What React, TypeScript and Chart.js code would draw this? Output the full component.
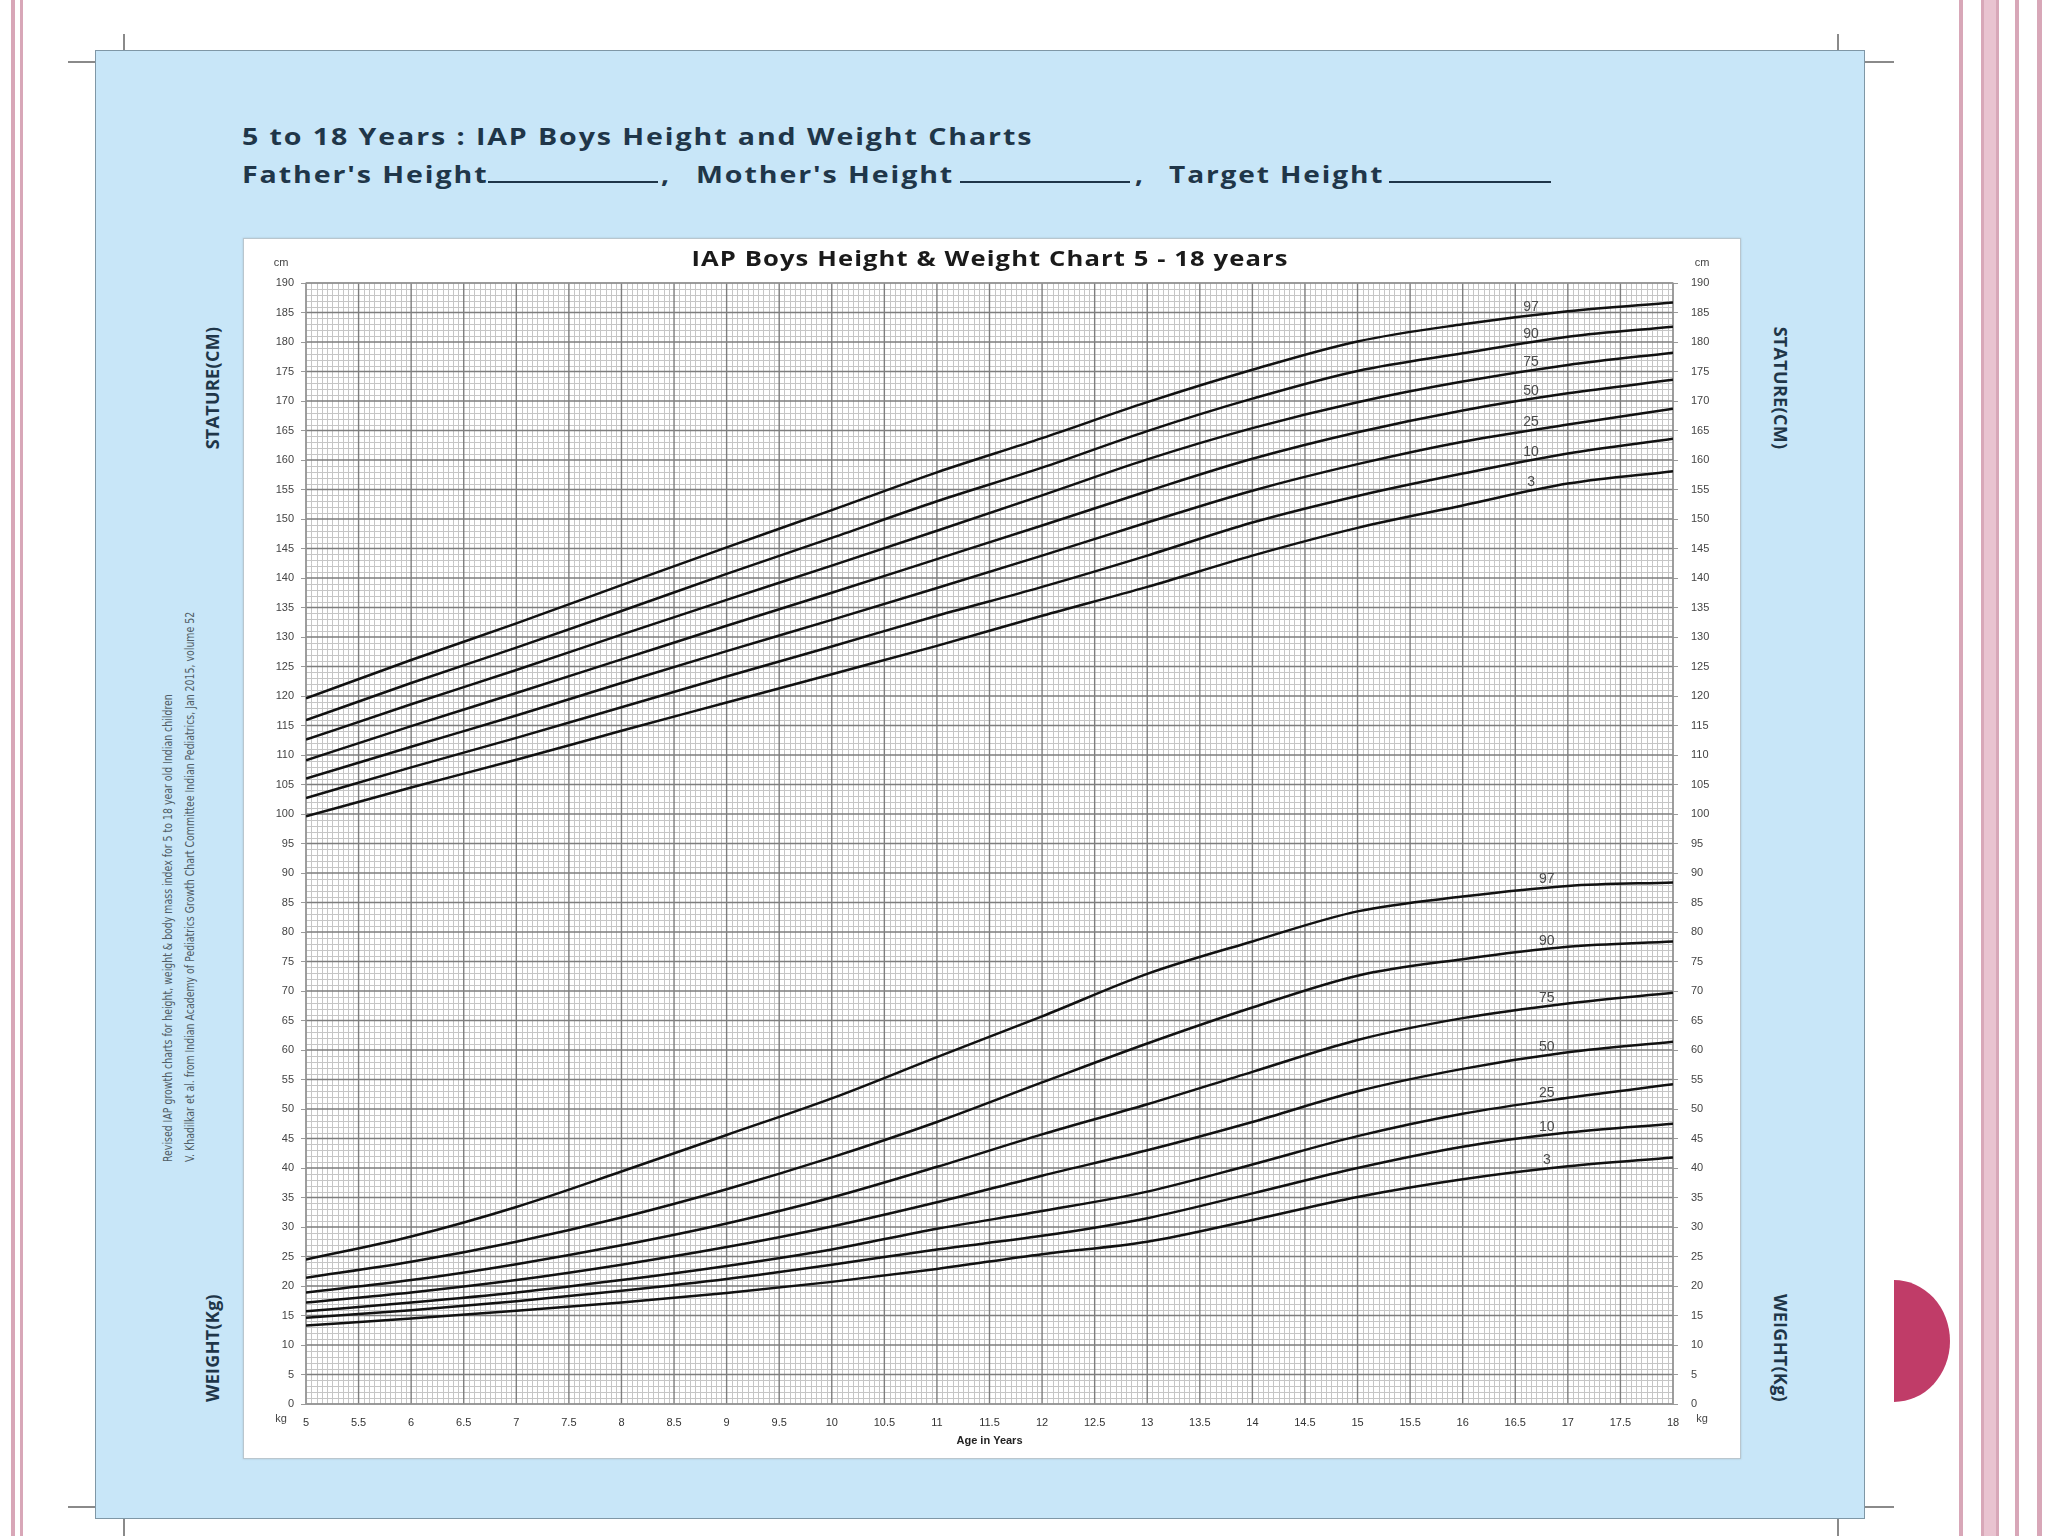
import React, { useEffect, useRef } from "react";
import { Chart, registerables } from "chart.js";

Chart.register(...registerables);

// ---------- data ----------
const ages = [5, 6, 7, 8, 9, 10, 11, 12, 13, 14, 15, 16, 17, 18];
const percentileNames = ["97", "90", "75", "50", "25", "10", "3"];

const height97 = [119.6, 126.1, 132.3, 138.8, 145.2, 151.5, 157.9, 163.7, 169.8, 175.3, 180.1, 183.0, 185.2, 186.7];
const height90 = [115.9, 122.2, 128.2, 134.4, 140.7, 146.8, 153.0, 158.7, 164.9, 170.4, 175.1, 178.1, 180.9, 182.6];
const height75 = [112.6, 118.6, 124.4, 130.4, 136.3, 142.1, 148.0, 154.0, 160.1, 165.4, 169.8, 173.3, 176.1, 178.2];
const height50 = [109.1, 114.9, 120.5, 126.2, 131.9, 137.5, 143.2, 148.9, 154.7, 160.2, 164.7, 168.4, 171.3, 173.6];
const height25 = [106.0, 111.4, 116.7, 122.2, 127.6, 132.9, 138.3, 143.8, 149.4, 154.8, 159.3, 163.1, 166.0, 168.7];
const height10 = [102.7, 107.9, 112.9, 118.1, 123.3, 128.4, 133.6, 138.5, 143.8, 149.4, 153.9, 157.7, 161.1, 163.6];
const height3 = [99.6, 104.5, 109.2, 114.1, 118.9, 123.7, 128.5, 133.6, 138.5, 143.8, 148.5, 152.3, 156.0, 158.1];

const weight97 = [24.5, 28.4, 33.4, 39.4, 45.6, 51.8, 58.8, 65.7, 72.9, 78.4, 83.5, 86.0, 87.8, 88.4];
const weight90 = [21.4, 24.1, 27.5, 31.6, 36.4, 41.8, 47.8, 54.5, 61.1, 67.2, 72.6, 75.4, 77.5, 78.4];
const weight75 = [18.9, 21.0, 23.7, 26.9, 30.6, 35.0, 40.2, 45.7, 50.8, 56.3, 61.7, 65.4, 67.9, 69.7];
const weight50 = [17.2, 18.9, 21.0, 23.6, 26.6, 30.1, 34.2, 38.7, 43.0, 47.8, 53.0, 56.8, 59.6, 61.4];
const weight25 = [15.7, 17.2, 18.9, 21.0, 23.4, 26.2, 29.7, 32.7, 36.0, 40.6, 45.4, 49.2, 51.9, 54.2];
const weight10 = [14.6, 15.9, 17.4, 19.2, 21.2, 23.6, 26.2, 28.5, 31.5, 35.7, 40.0, 43.6, 46.0, 47.5];
const weight3 = [13.3, 14.5, 15.8, 17.2, 18.8, 20.7, 22.9, 25.4, 27.5, 31.2, 35.1, 38.1, 40.3, 41.8];

const heightSeries = [height97, height90, height75, height50, height25, height10, height3];
const weightSeries = [weight97, weight90, weight75, weight50, weight25, weight10, weight3];

const ageMin = 5;
const ageMax = 18;
const valueMin = 0;
const valueMax = 190;
const ageTickStep = 0.5;
const valueTickStep = 5;
const ageMinorStep = 0.05;
const valueMinorStep = 1;
const heightLabelAge = 16.65;
const weightLabelAge = 16.8;

// ---------- styles ----------
const TITLE_COLOR = "#1f3649";
const PANEL_BLUE = "#c8e6f8";
const PINK = "#d8a7b8";
const UI_FONT = '"Open Sans", "DejaVu Sans", sans-serif';
const AXIS_FONT = '"Liberation Sans", Arial, sans-serif';

const gridPlugin = {
  id: "paperGrid",
  beforeDatasetsDraw(chart: any) {
    const { ctx, chartArea } = chart;
    const x = chart.scales.x;
    const y = chart.scales.y;
    const { left, right, top, bottom } = chartArea;
    ctx.save();
    ctx.fillStyle = "#ffffff";
    ctx.fillRect(left, top, right - left, bottom - top);
    ctx.strokeStyle = "#c6c6c6";
    ctx.lineWidth = 1;
    ctx.beginPath();
    const nA = Math.round((ageMax - ageMin) / ageMinorStep);
    const perMajorA = Math.round(ageTickStep / ageMinorStep);
    for (let i = 0; i <= nA; i++) {
      if (i % perMajorA === 0) continue;
      const px = Math.round(x.getPixelForValue(ageMin + i * ageMinorStep)) + 0.5;
      ctx.moveTo(px, top);
      ctx.lineTo(px, bottom);
    }
    const nV = Math.round((valueMax - valueMin) / valueMinorStep);
    const perMajorV = Math.round(valueTickStep / valueMinorStep);
    for (let i = 0; i <= nV; i++) {
      if (i % perMajorV === 0) continue;
      const py = Math.round(y.getPixelForValue(valueMin + i * valueMinorStep)) + 0.5;
      ctx.moveTo(left, py);
      ctx.lineTo(right, py);
    }
    ctx.stroke();
    ctx.strokeStyle = "#7e7e7e";
    ctx.lineWidth = 1.4;
    ctx.beginPath();
    for (let i = 0; i <= nA; i += perMajorA) {
      const px = x.getPixelForValue(ageMin + i * ageMinorStep);
      ctx.moveTo(px, top);
      ctx.lineTo(px, bottom);
    }
    for (let i = 0; i <= nV; i += perMajorV) {
      const py = y.getPixelForValue(valueMin + i * valueMinorStep);
      ctx.moveTo(left, py);
      ctx.lineTo(right, py);
    }
    ctx.stroke();
    ctx.strokeStyle = "#9a9a9a";
    ctx.lineWidth = 1.2;
    ctx.strokeRect(left, top, right - left, bottom - top);
    ctx.restore();
  },
};

const labelPlugin = {
  id: "pctLabels",
  afterDatasetsDraw(chart: any) {
    const { ctx } = chart;
    const x = chart.scales.x;
    ctx.save();
    ctx.font = '14px "Liberation Sans", Arial, sans-serif';
    ctx.fillStyle = "#4a4a4a";
    ctx.textAlign = "center";
    ctx.textBaseline = "bottom";
    chart.data.datasets.forEach((ds: any, i: number) => {
      const meta = chart.getDatasetMeta(i);
      const px = x.getPixelForValue(ds.labelAge);
      const pt: any = meta.dataset && meta.dataset.interpolate ? meta.dataset.interpolate({ x: px }, "x") : null;
      if (!pt) return;
      ctx.fillText(ds.pctLabel, pt.x, pt.y - 1);
    });
    ctx.restore();
  },
};

function ChartCanvas() {
  const ref = useRef<HTMLCanvasElement | null>(null);
  useEffect(() => {
    if (!ref.current) return;
    const mk = (arr: number[], name: string, labelAge: number) => ({
      label: name,
      pctLabel: name,
      labelAge,
      data: ages.map((a, i) => ({ x: a, y: arr[i] })),
      borderColor: "#111111",
      borderWidth: 2.5,
      pointRadius: 0,
      fill: false,
      cubicInterpolationMode: "monotone" as const,
      yAxisID: "y",
    });
    const datasets = [
      ...heightSeries.map((s, i) => mk(s, percentileNames[i], heightLabelAge)),
      ...weightSeries.map((s, i) => mk(s, percentileNames[i], weightLabelAge)),
    ];
    const tickFont = { family: AXIS_FONT, size: 11 };
    const chart = new Chart(ref.current, {
      type: "line",
      data: { datasets },
      plugins: [gridPlugin, labelPlugin],
      options: {
        animation: false,
        responsive: true,
        maintainAspectRatio: false,
        devicePixelRatio: 1,
        layout: { padding: { top: 45, left: 0, right: 0, bottom: 0 } },
        plugins: { legend: { display: false }, tooltip: { enabled: false }, title: { display: false } },
        scales: {
          x: {
            type: "linear",
            min: ageMin,
            max: ageMax,
            ticks: {
              stepSize: ageTickStep,
              autoSkip: false,
              maxRotation: 0,
              padding: 4,
              color: "#333",
              font: tickFont,
              callback: (v: any) => String(v),
            },
            grid: { display: false },
            border: { display: false },
            title: {
              display: true,
              text: "Age in Years",
              color: "#222",
              font: { family: AXIS_FONT, size: 11, weight: "bold" },
              padding: { top: 0, bottom: 11 },
            },
            afterFit: (s: any) => {
              s.height = 55;
            },
          },
          y: {
            type: "linear",
            position: "left",
            min: valueMin,
            max: valueMax,
            ticks: { stepSize: valueTickStep, padding: 7, color: "#444", font: tickFont },
            grid: { drawOnChartArea: false, drawTicks: true, tickLength: 5, color: "#999" },
            border: { display: false },
            afterFit: (s: any) => {
              s.width = 63;
            },
          },
          y2: {
            type: "linear",
            position: "right",
            min: valueMin,
            max: valueMax,
            ticks: { stepSize: valueTickStep, padding: 13, color: "#444", font: tickFont },
            grid: { drawOnChartArea: false, drawTicks: true, tickLength: 5, color: "#999" },
            border: { display: false },
            afterFit: (s: any) => {
              s.width = 68;
            },
          },
        },
      } as any,
    });
    return () => chart.destroy();
  }, []);
  return <canvas ref={ref} />;
}

const abs = (o: React.CSSProperties): React.CSSProperties => ({ position: "absolute", ...o });

function Rot({ cx, cy, deg, children, style }: { cx: number; cy: number; deg: number; children: any; style?: React.CSSProperties }) {
  return (
    <div
      style={abs({
        left: cx,
        top: cy,
        transform: `translate(-50%, -50%) rotate(${deg}deg)`,
        whiteSpace: "nowrap",
        lineHeight: 1,
        ...style,
      })}
    >
      {children}
    </div>
  );
}

export default function App() {
  const titleStyle: React.CSSProperties = {
    fontFamily: UI_FONT,
    fontWeight: 700,
    fontSize: 24,
    color: TITLE_COLOR,
    letterSpacing: 1.6,
    whiteSpace: "nowrap",
    lineHeight: 1,
    transformOrigin: "0 50%",
    transform: "scaleX(1.19)",
  };
  const underline = (l: number, w: number, t: number) => (
    <div style={abs({ left: l, top: t, width: w, height: 0, borderBottom: `2px solid ${TITLE_COLOR}` })} />
  );
  const axisLabel: React.CSSProperties = {
    fontFamily: UI_FONT,
    fontWeight: 700,
    fontSize: 18,
    color: TITLE_COLOR,
    letterSpacing: 0.3,
  };
  const small: React.CSSProperties = { fontFamily: AXIS_FONT, fontSize: 11, color: "#444", lineHeight: 1 };
  const cite: React.CSSProperties = {
    fontFamily: '"Liberation Sans Narrow", "DejaVu Sans Condensed", Arial, sans-serif',
    fontSize: 12,
    color: "#505d66",
    whiteSpace: "nowrap",
    lineHeight: 1,
    transformOrigin: "0 0",
    transform: "rotate(-90deg) scaleX(0.87)",
  };
  const cropColor = "#8a8a8a";
  return (
    <div
      style={{
        position: "fixed",
        left: 0,
        top: 0,
        width: 2048,
        height: 1536,
        background: "#ffffff",
        overflow: "hidden",
      }}
    >
      {/* pink page decorations */}
      <div style={abs({ left: 11, top: 0, width: 4, height: 1536, background: PINK })} />
      <div style={abs({ left: 20, top: 0, width: 3, height: 1536, background: PINK })} />
      <div style={abs({ left: 1959, top: 0, width: 4, height: 1536, background: PINK })} />
      <div style={abs({ left: 1981, top: 0, width: 18, height: 1536, background: "#e9c3d0", borderLeft: `3px solid ${PINK}`, borderRight: `3px solid ${PINK}`, boxSizing: "border-box" })} />
      <div style={abs({ left: 2015, top: 0, width: 4, height: 1536, background: PINK })} />
      <div style={abs({ left: 2037, top: 0, width: 5, height: 1536, background: PINK })} />
      <div style={abs({ left: 1894, top: 1280, width: 56, height: 122, background: "#c03c68", borderRadius: "0 56px 56px 0 / 0 61px 61px 0" })} />

      {/* crop marks */}
      <div style={abs({ left: 123, top: 34, width: 1.5, height: 16, background: cropColor })} />
      <div style={abs({ left: 1837, top: 34, width: 1.5, height: 16, background: cropColor })} />
      <div style={abs({ left: 123, top: 1519, width: 1.5, height: 17, background: cropColor })} />
      <div style={abs({ left: 1837, top: 1519, width: 1.5, height: 17, background: cropColor })} />
      <div style={abs({ left: 68, top: 61, width: 27, height: 1.5, background: cropColor })} />
      <div style={abs({ left: 1865, top: 61, width: 29, height: 1.5, background: cropColor })} />
      <div style={abs({ left: 68, top: 1506, width: 27, height: 1.5, background: cropColor })} />
      <div style={abs({ left: 1865, top: 1506, width: 29, height: 1.5, background: cropColor })} />

      {/* blue panel */}
      <div
        style={abs({
          left: 95,
          top: 50,
          width: 1770,
          height: 1469,
          background: PANEL_BLUE,
          border: "1.5px solid #7f97a6",
          boxSizing: "border-box",
        })}
      />

      {/* header texts */}
      <div style={abs({ left: 242, top: 124, ...titleStyle })}>5 to 18 Years : IAP Boys Height and Weight Charts</div>
      <div style={abs({ left: 242, top: 162, ...titleStyle })}>Father's Height</div>
      {underline(488, 170, 181)}
      <div style={abs({ left: 661, top: 162, ...titleStyle })}>,</div>
      <div style={abs({ left: 696, top: 162, ...titleStyle })}>Mother's Height</div>
      {underline(960, 170, 181)}
      <div style={abs({ left: 1135, top: 162, ...titleStyle, transform: "scaleX(1.16)" })}>,</div>
      <div style={abs({ left: 1169, top: 162, ...titleStyle, transform: "scaleX(1.17)" })}>Target Height</div>
      {underline(1389, 162, 181)}

      {/* rotated side labels */}
      <Rot cx={212} cy={388} deg={-90} style={axisLabel}>STATURE(CM)</Rot>
      <Rot cx={212} cy={1348} deg={-90} style={axisLabel}>WEIGHT(Kg)</Rot>
      <Rot cx={1781} cy={388} deg={90} style={axisLabel}>STATURE(CM)</Rot>
      <Rot cx={1781} cy={1348} deg={90} style={axisLabel}>WEIGHT(Kg)</Rot>

      {/* citation */}
      <div style={abs({ left: 162, top: 1162, ...cite })}>
        Revised IAP growth charts for height, weight &amp; body mass index for 5 to 18 year old Indian children
      </div>
      <div style={abs({ left: 184, top: 1162, ...cite })}>
        V. Khadilkar et al. from Indian Academy of Pediatrics Growth Chart Committee Indian Pediatrics, Jan 2015, volume 52
      </div>

      {/* white chart box */}
      <div
        style={abs({
          left: 243,
          top: 238,
          width: 1498,
          height: 1221,
          background: "#ffffff",
          border: "1px solid #b9c6ce",
          boxSizing: "border-box",
          boxShadow: "0 0 2px rgba(0,0,0,0.15)",
        })}
      />
      <div style={abs({ left: 243, top: 238, width: 1498, height: 1221 })}>
        <ChartCanvas />
      </div>

      {/* chart texts */}
      <div
        style={abs({
          left: 990,
          top: 258,
          transform: "translate(-50%, -50%) scaleX(1.22)",
          fontFamily: UI_FONT,
          fontWeight: 700,
          fontSize: 21,
          color: "#1a1a1a",
          whiteSpace: "nowrap",
          letterSpacing: 0.9,
          lineHeight: 1,
        })}
      >
        IAP Boys Height &amp; Weight Chart 5 - 18 years
      </div>
      <div style={abs({ left: 281, top: 262, transform: "translate(-50%,-50%)", ...small })}>cm</div>
      <div style={abs({ left: 1702, top: 262, transform: "translate(-50%,-50%)", ...small })}>cm</div>
      <div style={abs({ left: 281, top: 1418, transform: "translate(-50%,-50%)", ...small })}>kg</div>
      <div style={abs({ left: 1702, top: 1418, transform: "translate(-50%,-50%)", ...small })}>kg</div>
    </div>
  );
}
